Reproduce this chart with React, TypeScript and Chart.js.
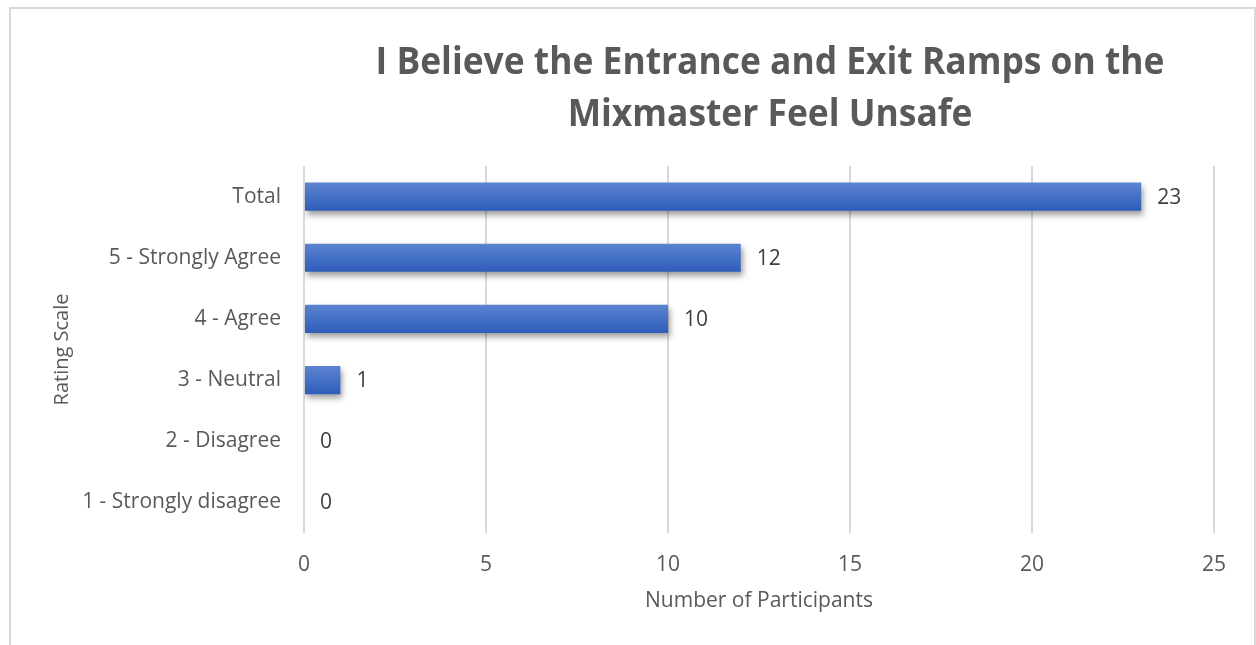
import React, { useEffect, useRef } from "react";
import { Chart, registerables } from "chart.js";

Chart.register(...registerables);

const categories = [
  "Total",
  "5 - Strongly Agree",
  "4 - Agree",
  "3 - Neutral",
  "2 - Disagree",
  "1 - Strongly disagree",
];
const participants = [23, 12, 10, 1, 0, 0];
const titleLines = ["I Believe the Entrance and Exit Ramps on the", "Mixmaster Feel Unsafe"];
const xAxisTitle = "Number of Participants";
const yAxisTitle = "Rating Scale";
const xMin = 0;
const xMax = 25;
const xStep = 5;

const TEXT = "#595959";
const FONT = "'Open Sans', sans-serif";

export default function App() {
  const canvasRef = useRef<HTMLCanvasElement | null>(null);

  useEffect(() => {
    document.body.style.margin = "0";
    const canvas = canvasRef.current;
    if (!canvas) return;

    const framePlugin = {
      id: "frame",
      beforeDraw(chart: any) {
        const ctx = chart.ctx;
        ctx.save();
        ctx.fillStyle = "#ffffff";
        ctx.fillRect(0, 0, chart.width, chart.height);
        ctx.strokeStyle = "#d9d9d9";
        ctx.lineWidth = 2;
        ctx.strokeRect(10, 8, 1245, 660);
        ctx.restore();
      },
      afterDraw(chart: any) {
        const ctx = chart.ctx;
        ctx.save();
        ctx.fillStyle = TEXT;
        ctx.textAlign = "center";
        ctx.textBaseline = "middle";
        ctx.font = `bold 37px ${FONT}`;
        const targetW = 789;
        const w = ctx.measureText(titleLines[0]).width;
        const sx = targetW / w;
        const ys = [63, 115];
        titleLines.forEach((line, i) => {
          ctx.save();
          ctx.translate(770, ys[i]);
          ctx.scale(sx, 1);
          ctx.fillText(line, 0, 0);
          ctx.restore();
        });
        ctx.restore();
      },
    };

    const shadowPlugin = {
      id: "barShadow",
      beforeDatasetsDraw(chart: any) {
        const ctx = chart.ctx;
        ctx.save();
        ctx.shadowColor = "rgba(0,0,0,0.38)";
        ctx.shadowBlur = 6;
        ctx.shadowOffsetX = 2;
        ctx.shadowOffsetY = 4;
      },
      afterDatasetsDraw(chart: any) {
        const ctx = chart.ctx;
        ctx.restore();
        const meta = chart.getDatasetMeta(0);
        ctx.save();
        ctx.fillStyle = "#404040";
        ctx.font = `21px ${FONT}`;
        ctx.textAlign = "left";
        ctx.textBaseline = "middle";
        meta.data.forEach((bar: any, i: number) => {
          ctx.fillText(String(participants[i]), bar.x + 16, bar.y + 1);
        });
        ctx.restore();
      },
    };

    const chart = new Chart(canvas, {
      type: "bar",
      data: {
        labels: categories,
        datasets: [
          {
            data: participants,
            barPercentage: 0.46,
            categoryPercentage: 1.0,
            borderWidth: 0,
            backgroundColor: (c: any) => {
              const ch = c.chart;
              const sc = ch.scales && ch.scales.y;
              if (!ch.chartArea || !sc) return "#4472c4";
              const y = sc.getPixelForValue(c.dataIndex);
              const h = (sc.height / categories.length) * 0.46;
              const g = ch.ctx.createLinearGradient(0, y - h / 2, 0, y + h / 2);
              g.addColorStop(0, "#5d83d0");
              g.addColorStop(0.5, "#4471c6");
              g.addColorStop(1, "#2e5dbb");
              return g;
            },
          },
        ],
      },
      options: {
        indexAxis: "y",
        animation: false,
        responsive: false,
        maintainAspectRatio: false,
        layout: { padding: { top: 166, left: 0, right: 42, bottom: 0 } },
        plugins: {
          legend: { display: false },
          title: { display: false },
          tooltip: { enabled: false },
        },
        scales: {
          x: {
            min: xMin,
            max: xMax,
            ticks: {
              stepSize: xStep,
              color: TEXT,
              font: { family: FONT, size: 21 },
              padding: 19,
            },
            grid: { color: "#d9d9d9", lineWidth: 2, drawTicks: false },
            border: { display: false },
            title: {
              display: true,
              text: xAxisTitle,
              color: TEXT,
              font: { family: FONT, size: 21 },
              padding: { top: 0, bottom: 31 },
            },
            afterFit(scale: any) {
              scale.height = 112;
            },
          },
          y: {
            ticks: {
              color: TEXT,
              font: { family: FONT, size: 21 },
              padding: 23,
            },
            grid: { display: false, drawTicks: false },
            border: { display: false },
            title: {
              display: true,
              text: yAxisTitle,
              color: TEXT,
              font: { family: FONT, size: 20 },
              padding: { top: 50, bottom: 0 },
            },
            afterFit(scale: any) {
              scale.width = 304;
            },
          },
        },
      },
      plugins: [framePlugin, shadowPlugin],
    } as any);

    return () => chart.destroy();
  }, []);

  return (
    <div style={{ position: "fixed", left: 0, top: 0, width: 1256, height: 645 }}>
      <canvas ref={canvasRef} width={1256} height={645} style={{ width: 1256, height: 645 }} />
    </div>
  );
}
